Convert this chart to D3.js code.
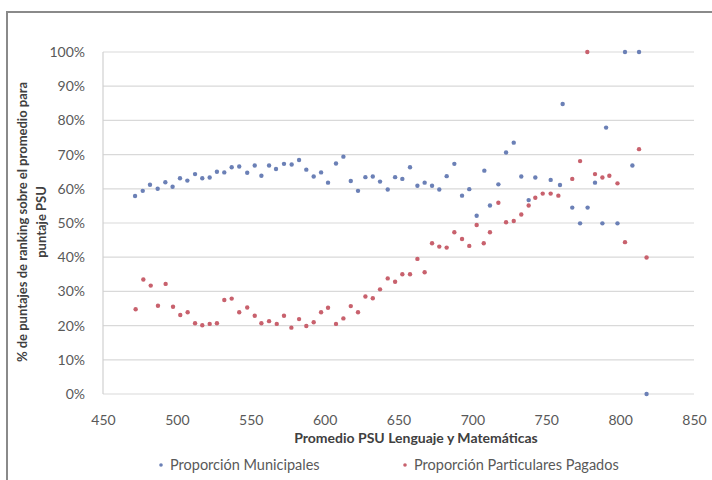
<!DOCTYPE html>
<html><head><meta charset="utf-8">
<script src="https://cdn.jsdelivr.net/npm/d3@7"></script>
<style>html,body{margin:0;padding:0;background:#fff;overflow:hidden}</style>
</head><body>
<svg id="c" width="712" height="480"></svg>
<script>
// Data (x = Promedio PSU, y = % )
const municipalesX = [471.7,476.9,481.8,487,492.2,497.1,502.1,507.1,512.3,517.2,522.2,527.1,532.1,537.1,542.2,547.6,552.7,557.2,562.4,567.1,572.5,577.7,582.7,587.6,592.6,597.6,602.3,607.7,612.7,617.7,622.6,627.6,632.6,637.5,642.7,647.7,652.6,657.8,662.8,667.7,672.7,677.6,682.6,687.8,693,697.9,702.9,708.1,711.9,717.6,722.8,728,733.1,738.1,742.6,753,759.3,761.1,767.6,772.9,778,783,788,790.5,798.2,803.3,808.3,812.8,817.9];
const municipalesY = [57.9,59.4,61.2,60.0,61.9,60.6,63.1,62.4,64.3,63.1,63.3,65.0,64.8,66.3,66.5,64.7,66.8,63.8,66.8,65.8,67.3,67.1,68.4,65.6,63.6,64.8,61.8,67.4,69.4,62.3,59.4,63.4,63.6,62.1,59.8,63.4,62.9,66.3,60.9,61.8,60.9,59.8,63.7,67.3,58.0,59.9,52.1,65.3,55.1,61.3,70.6,73.5,63.6,56.7,63.3,62.6,61.1,84.8,54.5,49.9,54.5,61.8,49.9,77.9,49.9,100,66.8,100,0];
const particularesX = [472.1,477.3,482.3,487.2,492.4,497.4,502.3,507.3,512.3,517.2,522.2,527.1,532.1,537.1,542.2,547.6,552.7,557.2,562.4,567.6,572.5,577.5,582.7,587.6,592.6,597.6,602.3,607.7,612.7,617.7,622.6,627.6,632.6,637.5,642.7,647.7,652.6,657.8,662.8,667.7,672.7,677.6,682.6,687.8,693,697.9,702.9,707.7,711.9,717.6,722.8,728,733.1,738.1,742.6,747.6,753,758.2,767.6,772.9,777.8,783,788,792.7,798.2,803.3,812.8,817.9];
const particularesY = [24.8,33.5,31.7,25.8,32.2,25.5,23.1,23.9,20.7,20.1,20.5,20.7,27.5,27.9,23.9,25.3,22.9,20.7,21.3,20.5,22.9,19.4,21.9,19.9,21.0,23.9,25.2,20.5,22.1,25.7,23.9,28.5,28.0,30.6,33.8,32.8,35.0,35.0,39.5,35.6,44.1,43.1,42.8,47.3,45.3,43.3,49.4,44.1,47.3,55.9,50.2,50.6,52.5,55.1,57.4,58.6,58.6,58.0,62.9,68.1,100,64.3,63.3,63.8,61.6,44.4,71.6,39.9];
const xTicks = [450,500,550,600,650,700,750,800,850];
const yTicks = [0,10,20,30,40,50,60,70,80,90,100];
const seriesNames = ["Proporción Municipales","Proporción Particulares Pagados"];
const seriesColors = ["#6b80b6","#c8616d"];
const xTitle = "Promedio PSU Lenguaje y Matemáticas";
const yTitleLines = ["% de puntajes de ranking sobre el promedio para","puntaje PSU"];

const svg = d3.select("#c");
const font = "Lato, 'Open Sans', sans-serif";
// outer chart border
svg.append("rect").attr("x",7).attr("y",12).attr("width",720).attr("height",480)
  .attr("fill","#fff").attr("stroke","#8a8a8a").attr("stroke-width",2);

const x = d3.scaleLinear().domain([450,850]).range([103,694]);
const y = d3.scaleLinear().domain([0,100]).range([394,52]);

// gridlines
svg.append("g").selectAll("line").data(yTicks).join("line")
  .attr("x1",x(450)).attr("x2",x(850)).attr("y1",d=>y(d)).attr("y2",d=>y(d))
  .attr("stroke","#d9d9d9").attr("stroke-width",1.2);
// left axis line
svg.append("line").attr("x1",x(450)).attr("x2",x(450)).attr("y1",y(0)).attr("y2",y(100))
  .attr("stroke","#d0d0d0").attr("stroke-width",1.2);

// axes labels using d3 axes
const yAxis = d3.axisLeft(y).tickValues(yTicks).tickFormat(d=>d+"%").tickSize(0).tickPadding(18);
const gy = svg.append("g").attr("transform",`translate(${x(450)},0)`).call(yAxis);
gy.select(".domain").remove();
gy.selectAll("text").attr("font-family",font).attr("font-size",14).attr("fill","#595959");

const xAxis = d3.axisBottom(x).tickValues(xTicks).tickFormat(d3.format("d")).tickSize(0).tickPadding(21);
const gx = svg.append("g").attr("transform",`translate(0,${y(0)})`).call(xAxis);
gx.select(".domain").remove();
gx.selectAll("text").attr("font-family",font).attr("font-size",14).attr("fill","#595959");

// points
const mun = municipalesX.map((v,i)=>({x:v,y:municipalesY[i]}));
const par = particularesX.map((v,i)=>({x:v,y:particularesY[i]}));
svg.append("g").selectAll("circle").data(mun).join("circle")
  .attr("cx",d=>x(d.x)).attr("cy",d=>y(d.y)).attr("r",2.2).attr("fill",seriesColors[0]);
svg.append("g").selectAll("circle").data(par).join("circle")
  .attr("cx",d=>x(d.x)).attr("cy",d=>y(d.y)).attr("r",2.2).attr("fill",seriesColors[1]);

// titles
svg.append("text").attr("x",416).attr("y",443).attr("text-anchor","middle")
  .attr("font-family",font).attr("font-size",14).attr("font-weight","bold").attr("fill","#404040").text(xTitle);
const yt = svg.append("text").attr("transform","translate(0,222) rotate(-90)")
  .attr("text-anchor","middle").attr("font-family",font).attr("font-size",13).attr("font-weight","bold").attr("fill","#404040");
yt.append("tspan").attr("x",0).attr("y",27).text(yTitleLines[0]);
yt.append("tspan").attr("x",0).attr("y",46).text(yTitleLines[1]);

// legend
const legX = [161,405];
seriesNames.forEach((n,i)=>{
  svg.append("circle").attr("cx",legX[i]).attr("cy",465).attr("r",1.8).attr("fill",seriesColors[i]);
  svg.append("text").attr("x",legX[i]+9).attr("y",470).attr("font-family",font).attr("font-size",14.5)
    .attr("fill","#595959").text(n);
});
</script>
</body></html>
